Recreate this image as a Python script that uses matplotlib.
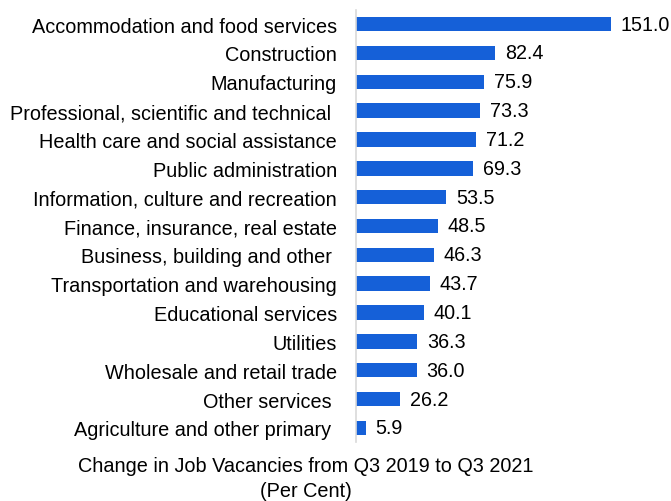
import matplotlib
matplotlib.use("Agg")
import matplotlib.pyplot as plt

categories = [
    "Accommodation and food services",
    "Construction",
    "Manufacturing",
    "Professional, scientific and technical ",
    "Health care and social assistance",
    "Public administration",
    "Information, culture and recreation",
    "Finance, insurance, real estate",
    "Business, building and other ",
    "Transportation and warehousing",
    "Educational services",
    "Utilities",
    "Wholesale and retail trade",
    "Other services ",
    "Agriculture and other primary ",
]
values = [151.0, 82.4, 75.9, 73.3, 71.2, 69.3, 53.5, 48.5, 46.3, 43.7, 40.1, 36.3, 36.0, 26.2, 5.9]
xlabel_lines = ["Change in Job Vacancies from Q3 2019 to Q3 2021", "(Per Cent)"]

plt.rcParams['font.family'] = ['Liberation Sans', 'DejaVu Sans']

fig = plt.figure(figsize=(6.71, 5.02), dpi=100)
W, H = 671, 502
left, right = 356, 611
top, bottom = 10.6, 443.4
ax = fig.add_axes([left / W, 1 - bottom / H, (right - left) / W, (bottom - top) / H])

y = list(range(len(categories)))
ax.barh(y, values, height=0.5, color="#1560D8")
ax.set_ylim(len(categories) - 0.5, -0.5)
ax.set_xlim(0, 151)
ax.set_yticks(y)
ax.set_yticklabels(categories, fontsize=14.3)
ax.tick_params(axis='y', length=0, pad=13.7)
ax.set_xticks([])
for s in ["top", "right", "bottom"]:
    ax.spines[s].set_visible(False)
ax.spines["left"].set_color("#d9d9d9")
ax.spines["left"].set_linewidth(1.2)

for yi, v in zip(y, values):
    ax.annotate(f"{v:.1f}", (v, yi), xytext=(7, 0), textcoords="offset points",
                va="center", ha="left", fontsize=14.2, annotation_clip=False)

fig.text(306 / W, 1 - 467 / H, xlabel_lines[0], ha="center", va="center", fontsize=14.3)
fig.text(306 / W, 1 - 492 / H, xlabel_lines[1], ha="center", va="center", fontsize=14.3)

fig.savefig("out.png", dpi=100)
